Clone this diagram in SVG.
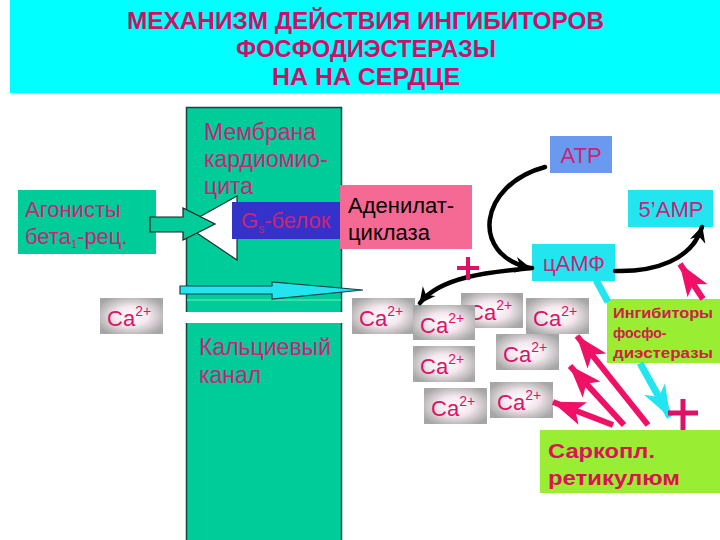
<svg xmlns="http://www.w3.org/2000/svg" width="720" height="540" viewBox="0 0 720 540">
<defs>
<style>
.t{font-family:"Liberation Sans",Arial,sans-serif}
.title{font-size:23px;font-weight:bold;fill:#cc1166}
.mem{font-size:23px;fill:#cc2277}
.lbl{font-size:22px;fill:#cc2277}
.ca{font-size:22px;fill:#dd1166}
.sup{font-size:14px}
.blk{fill:none;stroke:#000;stroke-width:4.5;stroke-linecap:round}
.pink{fill:none;stroke:#ee1166;stroke-width:6}
.cyanl{fill:none;stroke:#22e5f0;stroke-width:7}
.cabox{fill:url(#cag)}
</style>
<radialGradient id="cag" cx="50%" cy="50%" r="60%">
<stop offset="0" stop-color="#ffffff"/>
<stop offset="0.45" stop-color="#f4e8ee"/>
<stop offset="1" stop-color="#a6a6a6"/>
</radialGradient>
<marker id="bh" markerUnits="userSpaceOnUse" markerWidth="20" markerHeight="20" viewBox="0 0 20 20" refX="17" refY="10" orient="auto">
<path d="M2,2 L18,10 L2,18 L7,10 z" fill="#000"/>
</marker>
<marker id="ph" markerUnits="userSpaceOnUse" markerWidth="34" markerHeight="26" viewBox="0 0 34 26" refX="32" refY="13" orient="auto">
<path d="M0,1 L33,13 L0,25 L8,13 z" fill="#ee1166"/>
</marker>
<marker id="ch" markerUnits="userSpaceOnUse" markerWidth="34" markerHeight="26" viewBox="0 0 34 26" refX="32" refY="13" orient="auto">
<path d="M0,1 L33,13 L0,25 L9,13 z" fill="#22e5f0"/>
</marker>
</defs>

<g id="title">
<rect x="10" y="0" width="710" height="93" fill="#00ffff"/>
<text class="t title" x="127" y="29" textLength="477" lengthAdjust="spacingAndGlyphs">МЕХАНИЗМ ДЕЙСТВИЯ  ИНГИБИТОРОВ</text>
<text class="t title" x="236" y="57" textLength="260" lengthAdjust="spacingAndGlyphs">ФОСФОДИЭСТЕРАЗЫ</text>
<text class="t title" x="272" y="85" textLength="188" lengthAdjust="spacingAndGlyphs">НА  НА СЕРДЦЕ</text>
</g>

<g id="membrane">
<rect x="186.5" y="107.5" width="155" height="440" fill="#00cc99" stroke="#114444" stroke-width="1.5"/>
<line x1="187" y1="300" x2="341" y2="300" stroke="#33e0aa" stroke-width="2"/>
<rect x="184" y="312" width="160" height="11" fill="#ffffff"/>
<text class="t mem" x="204" y="140">Мембрана</text>
<text class="t mem" x="204" y="167">кардиомио-</text>
<text class="t mem" x="204" y="194">цита</text>
<text class="t mem" x="199" y="355">Кальциевый</text>
<text class="t mem" x="199" y="383">канал</text>
</g>

<g id="receptor">
<polygon points="237,196 185,225 237,260" fill="#ffffff" stroke="#113333" stroke-width="1.2"/>
</g>

<g id="gs">
<rect x="232" y="202" width="108" height="37" fill="#3333cc"/>
<text class="t lbl" x="241" y="228">G<tspan font-size="12" dy="5">s</tspan><tspan dy="-5">-белок</tspan></text>
</g>

<g id="agonists">
<rect x="18" y="190" width="138" height="64" fill="#00cc99"/>
<text class="t lbl" x="25" y="217" font-size="21">Агонисты</text>
<text class="t lbl" x="25" y="244" font-size="21">бета<tspan font-size="11" dy="4">1</tspan><tspan dy="-4">-рец.</tspan></text>
</g>

<g id="adenylate">
<rect x="340" y="185" width="132" height="64" fill="#f46a94"/>
<text class="t" x="348" y="213" font-size="22" fill="#000">Аденилат-</text>
<text class="t" x="348" y="240" font-size="22" fill="#000">циклаза</text>
</g>

<g id="atp">
<rect x="550" y="136" width="62" height="37" fill="#6a9af0"/>
<text class="t lbl" x="581" y="163" text-anchor="middle">ATP</text>
</g>

<g id="amp5">
<rect x="628" y="190" width="85" height="37" fill="#22e5f0"/>
<text class="t lbl" x="671" y="217" text-anchor="middle">5’AMP</text>
</g>

<g id="camp">
<rect x="532" y="244" width="83" height="37" fill="#22e5f0"/>
<text class="t lbl" x="574" y="271" text-anchor="middle" font-size="21">цАМФ</text>
</g>

<g id="inhibitors">
<rect x="607" y="299" width="113" height="64" fill="#99ee33"/>
<text class="t" x="613" y="318" font-size="14" font-weight="bold" fill="#cc2244" textLength="100" lengthAdjust="spacingAndGlyphs">Ингибиторы</text>
<text class="t" x="613" y="338" font-size="14" font-weight="bold" fill="#cc2244">фосфо-</text>
<text class="t" x="613" y="358" font-size="14" font-weight="bold" fill="#cc2244" textLength="100" lengthAdjust="spacingAndGlyphs">диэстеразы</text>
</g>

<g id="sr">
<rect x="540" y="430" width="180" height="63" fill="#99ee33"/>
<text class="t" x="548" y="458" font-size="21" font-weight="bold" fill="#dd1155" textLength="107" lengthAdjust="spacingAndGlyphs">Саркопл.</text>
<text class="t" x="548" y="485" font-size="21" font-weight="bold" fill="#dd1155" textLength="132" lengthAdjust="spacingAndGlyphs">ретикулюм</text>
</g>

<g id="ca-ions">
<g id="ca1"><rect class="cabox" x="100" y="298" width="63" height="36"/><text class="t ca" x="107" y="326">Ca<tspan class="sup" dy="-10">2+</tspan></text></g>
<g id="ca2"><rect class="cabox" x="352" y="298" width="63" height="36"/><text class="t ca" x="359" y="326">Ca<tspan class="sup" dy="-10">2+</tspan></text></g>
<g id="ca4"><rect class="cabox" x="461" y="293" width="62" height="35"/><text class="t ca" x="468" y="320">Ca<tspan class="sup" dy="-10">2+</tspan></text></g>
<g id="ca3"><rect class="cabox" x="413" y="305" width="62" height="35"/><text class="t ca" x="420" y="333">Ca<tspan class="sup" dy="-10">2+</tspan></text></g>
<g id="ca5"><rect class="cabox" x="526" y="298" width="63" height="36"/><text class="t ca" x="533" y="326">Ca<tspan class="sup" dy="-10">2+</tspan></text></g>
<g id="ca6"><rect class="cabox" x="413" y="346" width="62" height="36"/><text class="t ca" x="420" y="374">Ca<tspan class="sup" dy="-10">2+</tspan></text></g>
<g id="ca7"><rect class="cabox" x="496" y="334" width="63" height="36"/><text class="t ca" x="503" y="362">Ca<tspan class="sup" dy="-10">2+</tspan></text></g>
<g id="ca8"><rect class="cabox" x="424" y="388" width="63" height="36"/><text class="t ca" x="431" y="416">Ca<tspan class="sup" dy="-10">2+</tspan></text></g>
<g id="ca9"><rect class="cabox" x="490" y="382" width="63" height="36"/><text class="t ca" x="497" y="410">Ca<tspan class="sup" dy="-10">2+</tspan></text></g>
</g>

<g id="connectors">
<polygon points="150,217 183,217 183,208 215,224 183,240 183,232 150,232" fill="#00cc99" stroke="#112222" stroke-width="1.2"/>
<polygon points="180,286 272,286 272,282 363,290 272,299 272,294 180,294" fill="#22e5f0" stroke="#114444" stroke-width="1.2"/>
<path class="blk" d="M545,167 C478,185 470,255 530,268" marker-end="url(#bh)"/>
<path class="blk" d="M615,271 C655,272 692,260 702,227" marker-end="url(#bh)"/>
<path class="blk" d="M532,268 C488,272 440,277 420,303" marker-end="url(#bh)"/>
<line class="cyanl" x1="596" y1="280" x2="608" y2="302"/>
<path class="cyanl" d="M640,363 L670,417" marker-end="url(#ch)"/>
<path class="pink" d="M703,299 L680,264" marker-end="url(#ph)"/>
<path class="pink" d="M613,425 L553,402" marker-end="url(#ph)"/>
<path class="pink" d="M624,425 L570,366" marker-end="url(#ph)"/>
<path class="pink" d="M648,425 L577,336" marker-end="url(#ph)"/>
</g>

<g id="plus-signs">
<path d="M457,268 H479 M468,257 V280" stroke="#dd1166" stroke-width="4"/>
<path d="M668,413 H698 M683,399 V430" stroke="#dd1166" stroke-width="5"/>
</g>
</svg>
